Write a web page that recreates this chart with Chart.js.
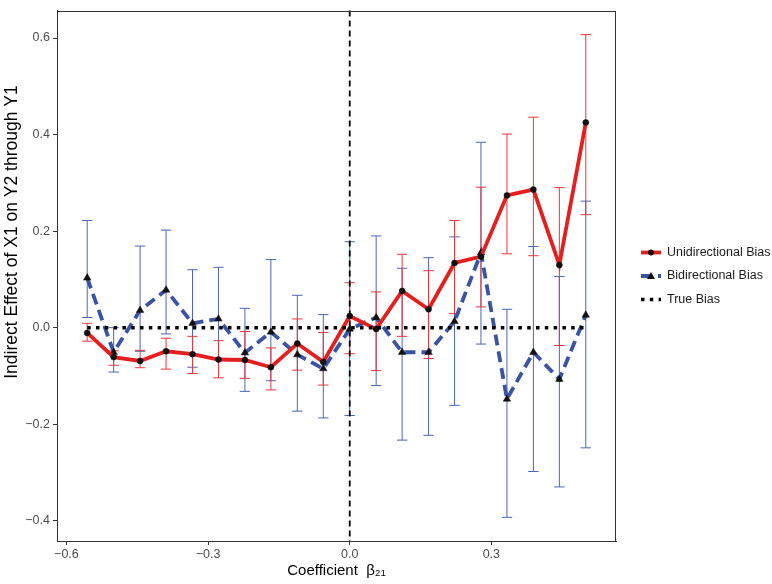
<!DOCTYPE html>
<html>
<head>
<meta charset="utf-8">
<script src="https://cdn.jsdelivr.net/npm/chart.js@4.4.1/dist/chart.umd.min.js"></script>
<style>
html,body{margin:0;padding:0;background:#fff;}
#wrap{width:772px;height:584px;position:relative;}
</style>
</head>
<body>
<div id="wrap"><canvas id="c" width="772" height="584"></canvas></div>
<script>
// ---- data ----
const betas = [-0.556, -0.5, -0.444, -0.389, -0.333, -0.278, -0.222, -0.167, -0.111, -0.056,
               0, 0.056, 0.111, 0.167, 0.222, 0.278, 0.333, 0.389, 0.444, 0.5];
const uniMean = [-0.011, -0.061, -0.069, -0.049, -0.055, -0.066, -0.067, -0.082, -0.033, -0.071,
                 0.024, -0.003, 0.076, 0.038, 0.134, 0.147, 0.274, 0.286, 0.130, 0.425];
const uniLow  = [-0.028, -0.078, -0.083, -0.086, -0.095, -0.104, -0.105, -0.129, -0.088, -0.119,
                 -0.054, -0.089, -0.018, -0.064, 0.029, 0.043, 0.153, 0.149, -0.037, 0.234];
const uniHigh = [0.009, -0.048, -0.047, -0.022, -0.018, -0.027, -0.008, -0.042, 0.018, -0.010,
                 0.093, 0.074, 0.152, 0.118, 0.222, 0.291, 0.401, 0.436, 0.290, 0.607];
const biMean  = [0.103, -0.051, 0.036, 0.078, 0.009, 0.018, -0.052, -0.009, -0.056, -0.085,
                 -0.003, 0.021, -0.051, -0.051, 0.013, 0.155, -0.148, -0.051, -0.107, 0.026];
const biLow   = [0.021, -0.092, -0.049, -0.013, -0.082, -0.066, -0.132, -0.110, -0.173, -0.187,
                 -0.182, -0.120, -0.233, -0.223, -0.161, -0.034, -0.393, -0.298, -0.330, -0.249];
const biHigh  = [0.222, 0.000, 0.169, 0.202, 0.120, 0.125, 0.040, 0.141, 0.067, 0.027,
                 0.178, 0.190, 0.123, 0.145, 0.188, 0.384, 0.038, 0.168, 0.106, 0.262];
const trueBias = [0, 0, 0, 0, 0, 0, 0, 0, 0, 0, 0, 0, 0, 0, 0, 0, 0, 0, 0, 0];
const seriesLabels = ['Unidirectional Bias', 'Bidirectional Bias', 'True Bias'];
const xTicks = [-0.6, -0.3, 0.0, 0.3];
const yTicks = [-0.4, -0.2, 0.0, 0.2, 0.4, 0.6];
const refLineX = 0;
const xTitle = 'Coefficient  \u03B2\u2082\u2081';
const yTitle = 'Indirect Effect of X1 on Y2 through Y1';

// ---- styles ----
const FONT = "'Liberation Sans', Arial, Helvetica, sans-serif";
Chart.defaults.font.family = FONT;
const RED = '#e3201f', BLUE = '#3a54a2';
const RED_BAR = '#e8373b', BLUE_BAR = '#4c66b1';
const AXIS = '#333333';
const fmt = v => (v < -1e-9 ? '\u2212' : '') + Math.abs(v).toFixed(1);
const pts = ys => betas.map((b, i) => ({x: b, y: ys[i]}));

const errorBars = {
  id: 'errorBars',
  beforeDatasetsDraw(chart) {
    const {ctx, scales: {x, y}} = chart;
    const sets = [
      {lo: biLow, hi: biHigh, color: BLUE_BAR},
      {lo: uniLow, hi: uniHigh, color: RED_BAR}
    ];
    ctx.save();
    ctx.lineWidth = 1;
    sets.forEach(s => {
      ctx.strokeStyle = s.color;
      betas.forEach((b, i) => {
        const px = x.getPixelForValue(b);
        const hw = x.getPixelForValue(b + 0.011) - px;
        const y1 = y.getPixelForValue(s.lo[i]);
        const y2 = y.getPixelForValue(s.hi[i]);
        ctx.beginPath();
        ctx.moveTo(px, y1); ctx.lineTo(px, y2);
        ctx.moveTo(px - hw, y1); ctx.lineTo(px + hw, y1);
        ctx.moveTo(px - hw, y2); ctx.lineTo(px + hw, y2);
        ctx.stroke();
      });
    });
    // vertical reference line
    const vx = x.getPixelForValue(refLineX);
    ctx.strokeStyle = '#000';
    ctx.lineWidth = 1.8;
    ctx.setLineDash([6, 4]);
    ctx.beginPath();
    ctx.moveTo(vx, chart.chartArea.top);
    ctx.lineTo(vx, chart.chartArea.bottom);
    ctx.stroke();
    ctx.restore();
  }
};

const frame = {
  id: 'frame',
  afterDraw(chart) {
    const {ctx, chartArea: a} = chart;
    ctx.save();
    ctx.strokeStyle = AXIS;
    ctx.lineWidth = 1;
    ctx.strokeRect(Math.round(a.left) + 0.5, Math.round(a.top) + 0.5,
                   Math.round(a.right - a.left) - 1, Math.round(a.bottom - a.top) - 1);
    // y axis title
    ctx.translate(12, 232);
    ctx.rotate(-Math.PI / 2);
    ctx.fillStyle = '#000';
    ctx.font = '17.5px ' + FONT;
    ctx.textAlign = 'center';
    ctx.textBaseline = 'middle';
    ctx.fillText(yTitle, 0, 0);
    ctx.restore();
  }
};

const legendPlugin = {
  id: 'customLegend',
  afterDraw(chart) {
    const {ctx} = chart;
    const x0 = 641, x1 = 661, tx = 667;
    const ys = [252.5, 276, 299.5];
    const ds = chart.data.datasets;
    ctx.save();
    ds.forEach((d, i) => {
      const y = ys[i];
      ctx.strokeStyle = d.borderColor;
      ctx.lineWidth = d.borderWidth;
      ctx.setLineDash(d.borderDash || []);
      ctx.lineCap = 'butt';
      ctx.beginPath(); ctx.moveTo(x0, y); ctx.lineTo(x1, y); ctx.stroke();
      ctx.setLineDash([]);
      ctx.fillStyle = '#111';
      if (d.pointStyle === 'circle' && d.pointRadius > 0) {
        ctx.beginPath(); ctx.arc(651, y, 3, 0, Math.PI * 2); ctx.fill();
      } else if (d.pointStyle === 'triangle' && d.pointRadius > 0) {
        ctx.beginPath(); ctx.moveTo(651, y - 4); ctx.lineTo(655, y + 3); ctx.lineTo(647, y + 3); ctx.closePath(); ctx.fill();
      }
      ctx.fillStyle = '#1a1a1a';
      ctx.font = '12.5px ' + FONT;
      ctx.textBaseline = 'middle';
      ctx.textAlign = 'left';
      ctx.fillText(d.label, tx, y);
    });
    ctx.restore();
  }
};

new Chart(document.getElementById('c'), {
  type: 'line',
  data: {
    datasets: [
      {label: seriesLabels[0], data: pts(uniMean), borderColor: RED, backgroundColor: RED,
       borderWidth: 3.8, pointStyle: 'circle', pointRadius: 3,
       pointBackgroundColor: '#111', pointBorderColor: '#111', pointBorderWidth: 0.5, order: 1},
      {label: seriesLabels[1], data: pts(biMean), borderColor: BLUE, backgroundColor: BLUE,
       borderWidth: 3.8, borderDash: [11, 6], pointStyle: 'triangle', pointRadius: 4.3,
       pointBackgroundColor: '#111', pointBorderColor: '#111', pointBorderWidth: 0.5, order: 2},
      {label: seriesLabels[2], data: pts(trueBias), borderColor: '#000', backgroundColor: '#000',
       borderWidth: 3.5, borderDash: [3.5, 5.3], pointStyle: 'circle', pointRadius: 0, order: 0}
    ]
  },
  options: {
    responsive: false,
    animation: false,
    devicePixelRatio: 1,
    layout: {padding: {left: 0, right: 156, top: 5, bottom: 0}},
    plugins: {legend: {display: false}, tooltip: {enabled: false}},
    elements: {line: {tension: 0, borderCapStyle: 'butt'}},
    scales: {
      x: {
        type: 'linear', min: -0.62, max: 0.564,
        afterBuildTicks(s) { s.ticks = xTicks.map(v => ({value: v})); },
        afterFit(s) { s.height = 43; },
        grid: {display: true, drawOnChartArea: false, drawTicks: true, tickLength: 4, color: AXIS, tickColor: AXIS},
        border: {display: true, color: AXIS, width: 1},
        ticks: {font: {size: 12.5}, color: '#4d4d4d', padding: 2, maxRotation: 0, callback: v => fmt(v)},
        title: {display: true, text: xTitle, font: {size: 15}, color: '#000', padding: {top: 0, bottom: 4}}
      },
      y: {
        type: 'linear', min: -0.442, max: 0.657,
        afterBuildTicks(s) { s.ticks = yTicks.map(v => ({value: v})); },
        afterFit(s) { s.width = 57; },
        grid: {display: true, drawOnChartArea: false, drawTicks: true, tickLength: 4, color: AXIS, tickColor: AXIS},
        border: {display: true, color: AXIS, width: 1},
        ticks: {font: {size: 12.5}, color: '#4d4d4d', padding: 3, callback: v => fmt(v)},
        title: {display: false, text: yTitle}
      }
    }
  },
  plugins: [errorBars, frame, legendPlugin]
});
</script>
</body>
</html>
